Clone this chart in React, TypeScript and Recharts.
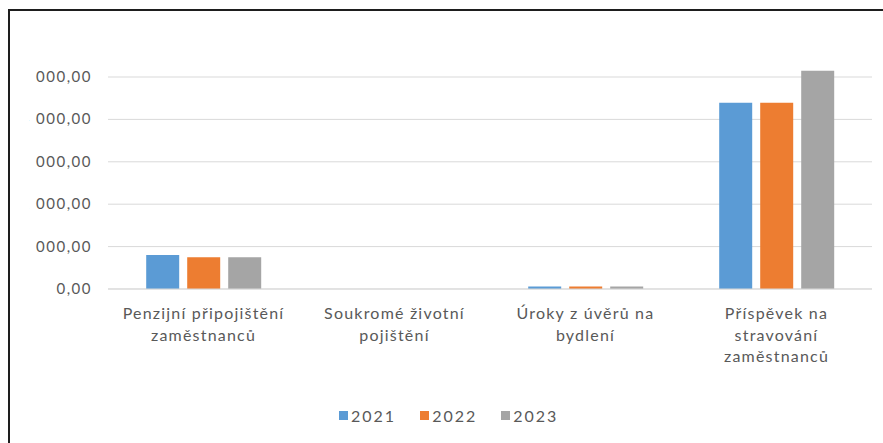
import { Bar, BarChart, CartesianGrid, XAxis, YAxis } from "recharts";

const CATEGORIES = [
  "Penzijní připojištění\nzaměstnanců",
  "Soukromé životní\npojištění",
  "Úroky z úvěrů na\nbydlení",
  "Příspěvek na\nstravování\nzaměstnanců",
];
const YEARS = ["2021", "2022", "2023"];
const VALUES_2021 = [800, 0, 60, 4390];
const VALUES_2022 = [750, 0, 60, 4395];
const VALUES_2023 = [750, 0, 60, 5150];
const Y_TICKS = [0, 1000, 2000, 3000, 4000, 5000];

const COLORS = ["#5b9bd5", "#ed7d31", "#a5a5a5"];
const TEXT = "#595959";
const FONT = "Lato, 'Open Sans', sans-serif";

const data = CATEGORIES.map((name, i) => ({
  name,
  "2021": VALUES_2021[i],
  "2022": VALUES_2022[i],
  "2023": VALUES_2023[i],
}));

function fmt(v: number) {
  if (v === 0) return "0,00";
  return `${Math.floor(v / 1000)} 000,00`;
}

function YTick({ y, payload, index }: any) {
  const id = `yclip-${index}`;
  return (
    <g>
      <defs>
        <clipPath id={id}>
          <rect x={29} y={y - 14} width={90} height={28} />
        </clipPath>
      </defs>
      <g clipPath={`url(#${id})`}>
        <text
          x={92}
          y={y}
          dy={5}
          textAnchor="end"
          fill={TEXT}
          fontSize={15}
          letterSpacing={1.5}
          fontFamily={FONT}
        >
          {fmt(payload.value)}
        </text>
      </g>
    </g>
  );
}

function XTick({ x, y, payload }: any) {
  const lines = String(payload.value).split("\n");
  return (
    <text
      x={x}
      y={y}
      textAnchor="middle"
      fill={TEXT}
      fontSize={16}
      letterSpacing={1.2}
      fontFamily={FONT}
    >
      {lines.map((l, i) => (
        <tspan key={i} x={x} dy={i === 0 ? 22 : 21.5}>
          {l}
        </tspan>
      ))}
    </text>
  );
}

function YearLegend() {
  return (
    <div
      style={{
        position: "absolute",
        left: 339,
        top: 406,
        display: "flex",
        gap: 24,
        fontFamily: FONT,
        fontSize: 16,
        letterSpacing: 2,
        color: TEXT,
      }}
    >
      {YEARS.map((y, i) => (
        <span key={y} style={{ display: "flex", alignItems: "center", gap: 3 }}>
          <span style={{ width: 9, height: 9, background: COLORS[i], display: "inline-block" }} />
          {y}
        </span>
      ))}
    </div>
  );
}

export default function App() {
  return (
    <div style={{ position: "fixed", left: 0, top: 0, width: 883, height: 443, background: "#fff", overflow: "hidden" }}>
      <div
        style={{
          position: "absolute",
          left: 8,
          top: 9,
          right: 0,
          bottom: 0,
          borderLeft: "2px solid #1e1e1e",
          borderTop: "2px solid #1e1e1e",
        }}
      />
      <div style={{ position: "absolute", left: 0, top: 0 }}>
        <BarChart
          width={883}
          height={443}
          data={data}
          margin={{ top: 34.6, right: 11, bottom: 0, left: 0 }}
          barCategoryGap="20%"
          barGap={8}
        >
          <CartesianGrid vertical={false} stroke="#d9d9d9" horizontalValues={Y_TICKS} />
          <XAxis
            dataKey="name"
            height={154}
            tick={<XTick />}
            tickLine={false}
            axisLine={{ stroke: "#d9d9d9" }}
            interval={0}
          />
          <YAxis
            width={108}
            domain={[0, 6000]}
            ticks={Y_TICKS}
            tick={<YTick />}
            tickLine={false}
            axisLine={false}
            interval={0}
          />
          {YEARS.map((y, i) => (
            <Bar key={y} dataKey={y} fill={COLORS[i]} isAnimationActive={false} />
          ))}
        </BarChart>
      </div>
      <YearLegend />
    </div>
  );
}
